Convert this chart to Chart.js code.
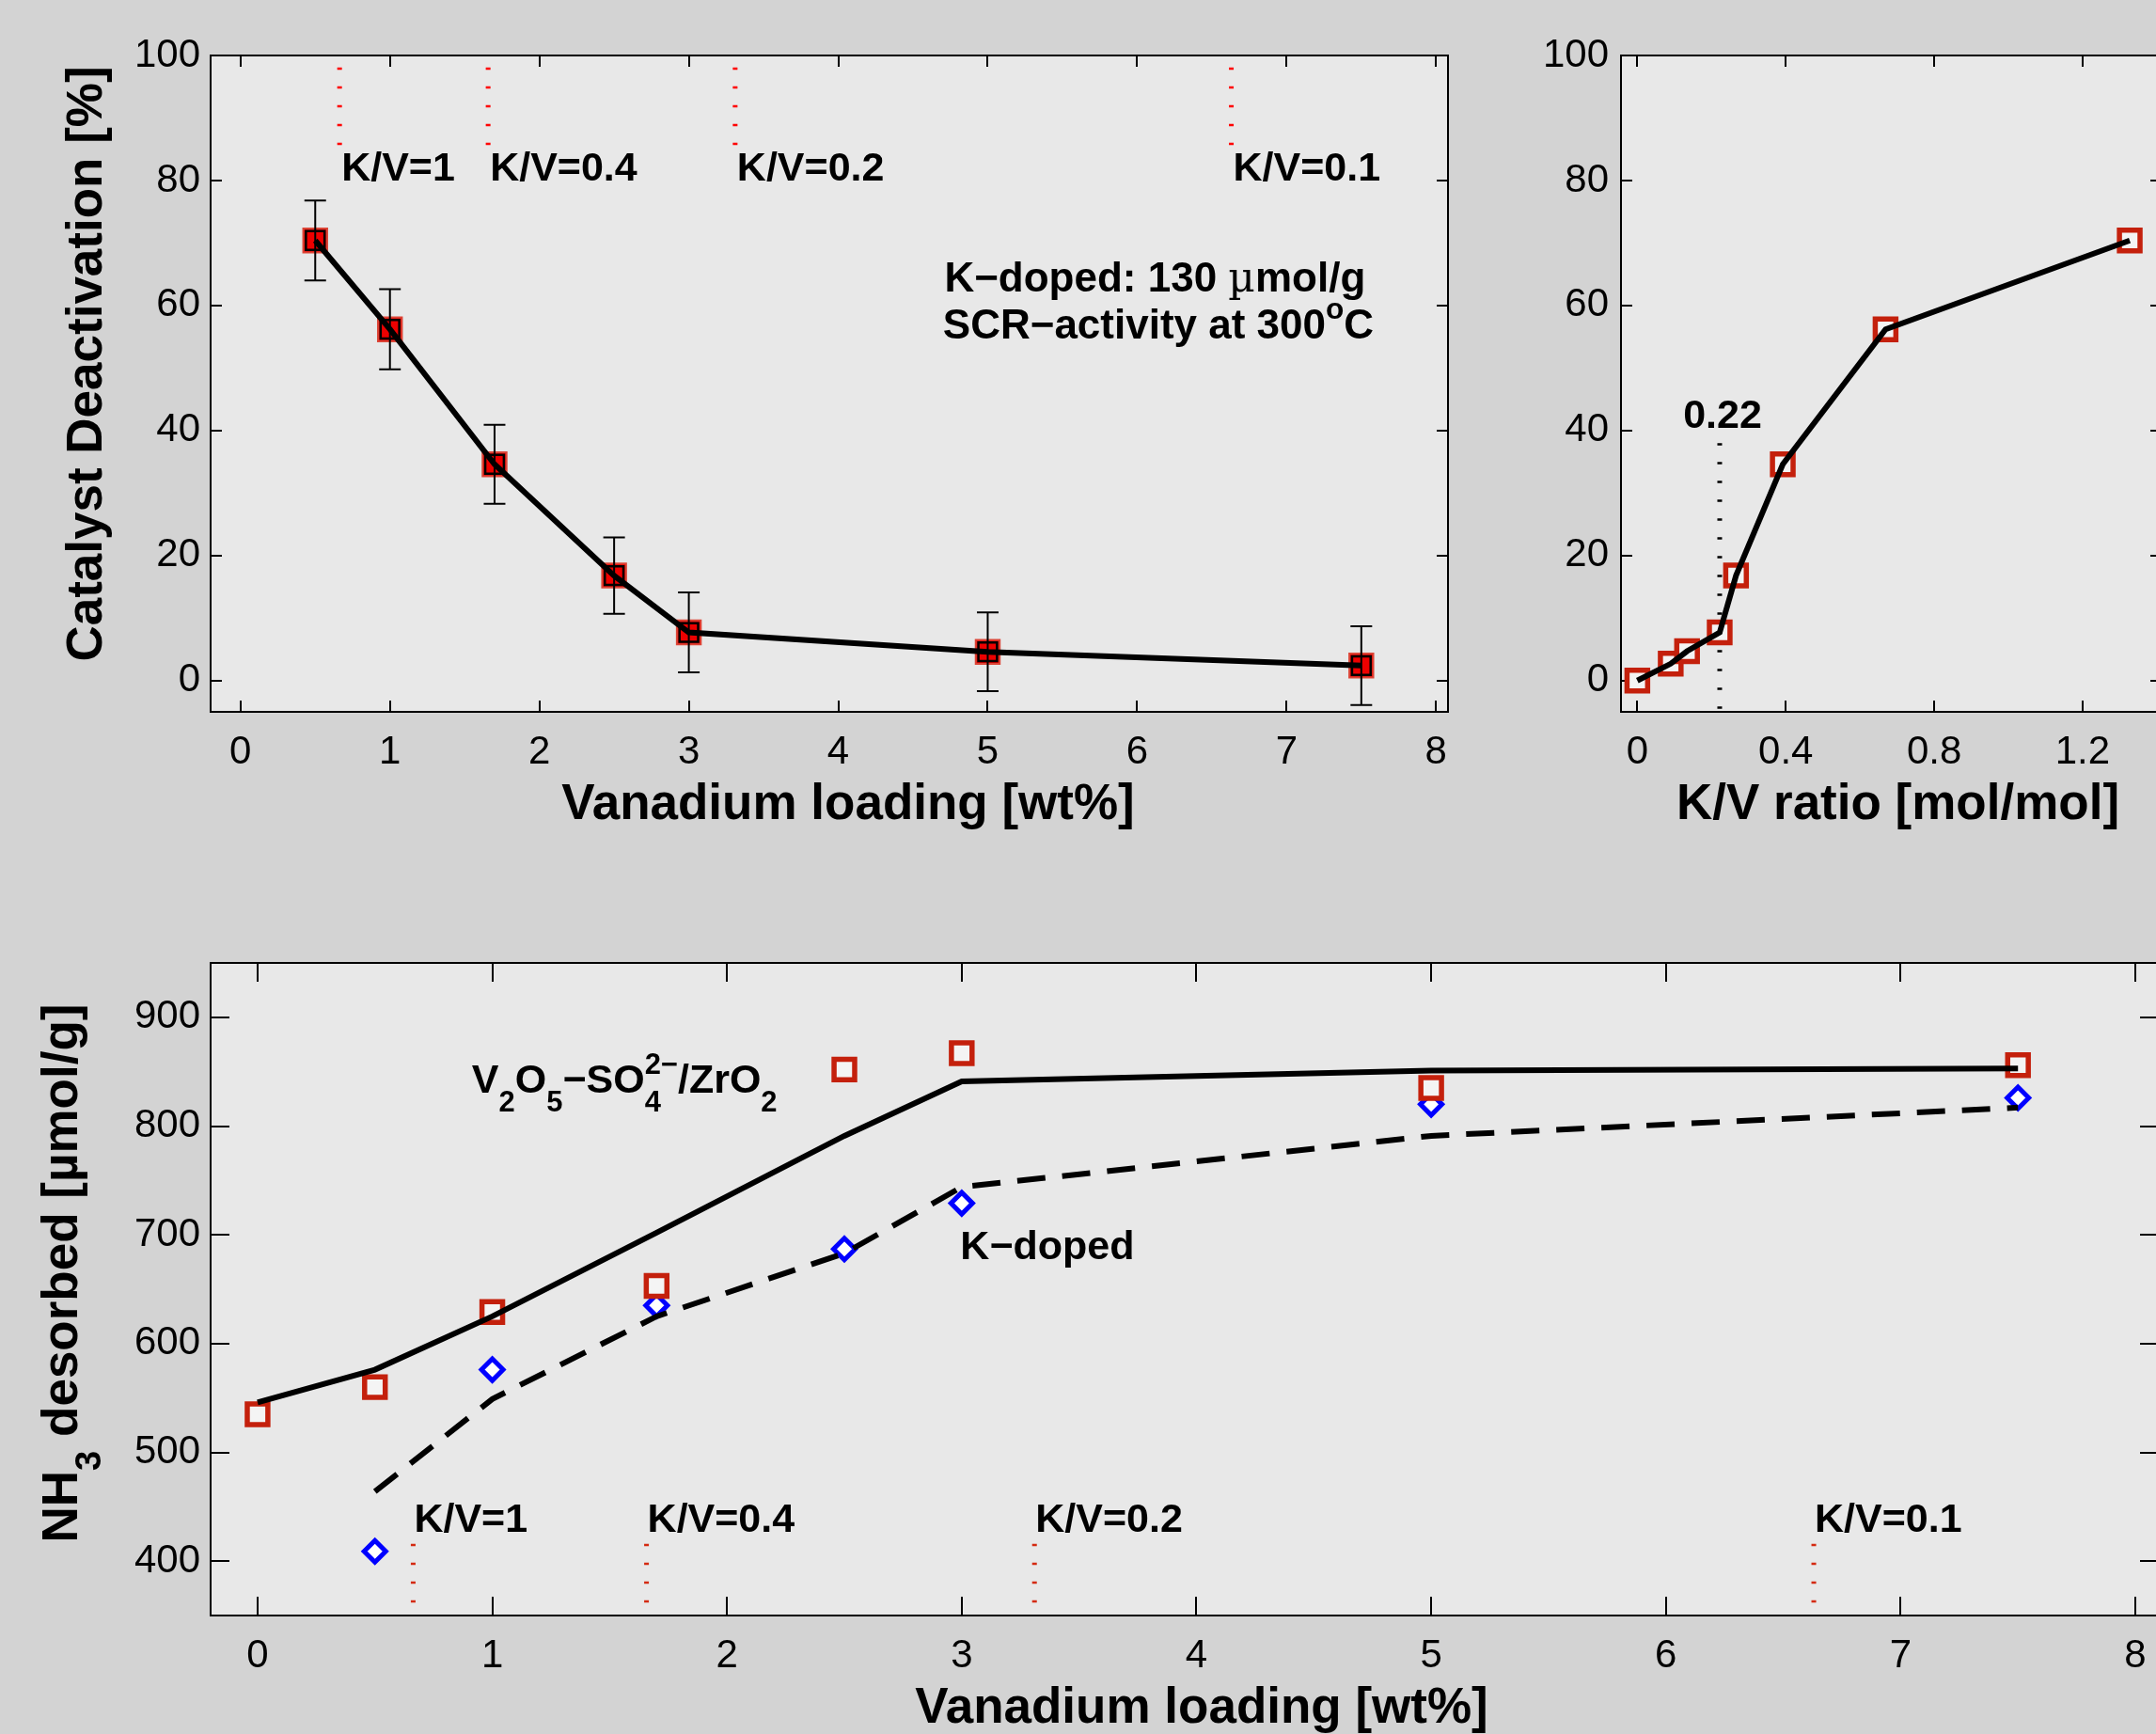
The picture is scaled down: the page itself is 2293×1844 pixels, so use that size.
<!DOCTYPE html>
<html>
<head>
    <title>Catalyst deactivation and NH3 desorption</title>
    <script src="https://cdn.jsdelivr.net/npm/chart.js"></script>
    <style>
        html, body { margin: 0; padding: 0; background: #d3d3d3; overflow: hidden; }
        body { width: 2293px; height: 1844px; position: relative; }
        canvas { position: absolute; }
    </style>
</head>
<body>
    <canvas id="deactChart" width="1600" height="900" style="left:0;top:0"></canvas>
    <canvas id="ratioChart" width="800" height="900" style="left:1600px;top:0"></canvas>
    <canvas id="nh3Chart" width="2400" height="944" style="left:0;top:900px"></canvas>

    <script>
        // Vanadium loading (wt%) of the K-doped catalysts and their deactivation
        var loading = [0.5, 1, 1.7, 2.5, 3, 5, 7.5];
        var deactivation = [70.4, 56.2, 34.6, 16.8, 7.7, 4.6, 2.4];
        var deactError = [6.4, 6.4, 6.3, 6.1, 6.4, 6.3, 6.3];

        // same deactivation vs K/V ratio (plus the undoped point)
        var kvRatio = [0, 0.09, 0.134, 0.222, 0.266, 0.392, 0.669, 1.327];
        var deactByRatio = [0, 2.7, 4.7, 7.7, 16.8, 34.6, 56.2, 70.4];

        // NH3 desorbed, undoped and K-doped
        var loadingAll = [0, 0.5, 1, 1.7, 2.5, 3, 5, 7.5];
        var nh3Plain = [535, 560, 629, 653, 852, 867, 835, 856];
        var nh3PlainFit = [546, 576, 625, 702, 791, 841, 851, 853];
        var nh3Doped = [409, 576, 635, 687, 729, 820, 826];
        var nh3DopedFit = [464, 549, 625, 683, 744, 791, 817];

        // loadings where K/V equals 1, 0.4, 0.2 and 0.1
        var kvLoading = [0.663, 1.657, 3.31, 6.63];
        var kvLabels = ['K/V=1', 'K/V=0.4', 'K/V=0.2', 'K/V=0.1'];
        var kvThreshold = 0.222;

        // tick labels
        var loadingTicks = [0, 1, 2, 3, 4, 5, 6, 7, 8];
        var deactTicks = [0, 20, 40, 60, 80, 100];
        var ratioTicks = [0, 0.4, 0.8, 1.2];
        var nh3Ticks = [400, 500, 600, 700, 800, 900];

        var FONT = "'Liberation Sans', Arial, Helvetica, sans-serif";
        Chart.defaults.font.family = FONT;
        Chart.defaults.color = '#000';

        function pts(xs, ys) {
            return xs.map(function (x, i) { return { x: x, y: ys[i] }; });
        }

        // draws text with sub/superscripts; parts are strings or {t, sub, sup, keep, weight, family}
        function drawRich(ctx, parts, x, y, size, align) {
            var items = [];
            var w = 0;
            parts.forEach(function (p) {
                if (typeof p === 'string') p = { t: p };
                var s = (p.sub || p.sup) ? size * 0.72 : size;
                var font = (p.weight || 'bold') + ' ' + s + 'px ' + (p.family || FONT);
                ctx.font = font;
                var adv = ctx.measureText(p.t).width;
                var dy = p.sub ? size * 0.47 : (p.sup ? -size * 0.47 : 0);
                items.push({ t: p.t, font: font, x: w, dy: dy });
                if (!p.keep) w += adv;
            });
            var x0 = align === 'center' ? x - w / 2 : (align === 'right' ? x - w : x);
            ctx.textAlign = 'left';
            ctx.textBaseline = 'alphabetic';
            ctx.fillStyle = '#000';
            items.forEach(function (it) {
                ctx.font = it.font;
                ctx.fillText(it.t, x0 + it.x, y + it.dy);
            });
        }

        function dotted(ctx, x, y1, y2, color) {
            ctx.save();
            ctx.strokeStyle = color;
            ctx.lineWidth = 5;
            ctx.setLineDash([2.5, 17.5]);
            ctx.beginPath();
            ctx.moveTo(x, y1);
            ctx.lineTo(x, y2);
            ctx.stroke();
            ctx.restore();
        }

        // matlab-like box: grey plot area, black frame, inward ticks on all sides, axis labels
        function framePlugin(tickLen, titles) {
            return {
                id: 'frame',
                beforeDraw: function (chart) {
                    var a = chart.chartArea, ctx = chart.ctx;
                    ctx.save();
                    ctx.fillStyle = '#e8e8e8';
                    ctx.fillRect(a.left, a.top, a.right - a.left, a.bottom - a.top);
                    ctx.restore();
                },
                beforeDatasetsDraw: function (chart) {
                    var a = chart.chartArea, ctx = chart.ctx;
                    var sx = chart.scales.x, sy = chart.scales.y;
                    ctx.save();
                    ctx.strokeStyle = '#000';
                    ctx.lineWidth = 2;
                    ctx.beginPath();
                    sx.ticks.forEach(function (t) {
                        var px = Math.round(sx.getPixelForValue(t.value));
                        ctx.moveTo(px, a.bottom); ctx.lineTo(px, a.bottom - tickLen);
                        ctx.moveTo(px, a.top); ctx.lineTo(px, a.top + tickLen);
                    });
                    sy.ticks.forEach(function (t) {
                        var py = Math.round(sy.getPixelForValue(t.value));
                        ctx.moveTo(a.left, py); ctx.lineTo(a.left + tickLen, py);
                        ctx.moveTo(a.right, py); ctx.lineTo(a.right - tickLen, py);
                    });
                    ctx.stroke();
                    ctx.strokeRect(a.left, a.top, a.right - a.left, a.bottom - a.top);
                    ctx.restore();
                },
                afterDraw: function (chart) {
                    var a = chart.chartArea, ctx = chart.ctx;
                    var cx = (a.left + a.right) / 2, cy = (a.top + a.bottom) / 2;
                    ctx.save();
                    drawRich(ctx, titles.x, cx + titles.xdx, a.bottom + 114, 53, 'center');
                    if (titles.y) {
                        ctx.translate(a.left - titles.ydx, cy + titles.ydy);
                        ctx.rotate(-Math.PI / 2);
                        drawRich(ctx, titles.y, 0, 0, 53, 'center');
                    }
                    ctx.restore();
                }
            };
        }

        function axis(min, max, ticks, fit, pad) {
            return {
                type: 'linear',
                min: min,
                max: max,
                afterBuildTicks: function (s) { s.ticks = ticks.map(function (v) { return { value: v }; }); },
                afterFit: fit,
                grid: { display: false, drawTicks: false },
                border: { display: false },
                ticks: {
                    font: { size: 42 },
                    padding: pad,
                    autoSkip: false,
                    maxRotation: 0,
                    callback: function (v) { return String(v); }
                }
            };
        }

        var baseOptions = function (padding, xs, ys) {
            return {
                responsive: false,
                animation: false,
                events: [],
                layout: { padding: padding },
                plugins: { legend: { display: false }, tooltip: { enabled: false } },
                scales: { x: xs, y: ys }
            };
        };

        // ---------- top left: deactivation vs vanadium loading ----------
        var errorBars = {
            id: 'errorBars',
            afterDatasetsDraw: function (chart) {
                var ctx = chart.ctx, sx = chart.scales.x, sy = chart.scales.y;
                ctx.save();
                ctx.strokeStyle = '#000';
                ctx.lineWidth = 2;
                ctx.beginPath();
                loading.forEach(function (v, i) {
                    var px = sx.getPixelForValue(v);
                    var top = sy.getPixelForValue(deactivation[i] + deactError[i]);
                    var bot = sy.getPixelForValue(deactivation[i] - deactError[i]);
                    ctx.moveTo(px, top); ctx.lineTo(px, bot);
                    ctx.moveTo(px - 11.5, top); ctx.lineTo(px + 11.5, top);
                    ctx.moveTo(px - 11.5, bot); ctx.lineTo(px + 11.5, bot);
                });
                ctx.stroke();
                ctx.restore();
            }
        };

        var notesDeact = {
            id: 'notesDeact',
            afterDatasetsDraw: function (chart) {
                var ctx = chart.ctx, sx = chart.scales.x, sy = chart.scales.y;
                kvLoading.forEach(function (v, i) {
                    var px = sx.getPixelForValue(v);
                    dotted(ctx, px, sy.getPixelForValue(98.1), sy.getPixelForValue(85.5), '#ff0000');
                    drawRich(ctx, [kvLabels[i]], px + 2, sy.getPixelForValue(80), 43, 'left');
                });
                drawRich(ctx, ['K\u2212doped: 130 ', { t: '\u00b5', weight: 'normal', family: "'DejaVu Serif', serif" }, 'mol/g'],
                    sx.getPixelForValue(4.71), sy.getPixelForValue(62.2), 44, 'left');
                drawRich(ctx, ['SCR\u2212activity at 300', { t: 'o', sup: true }, 'C'],
                    sx.getPixelForValue(4.70), sy.getPixelForValue(54.7), 44, 'left');
            }
        };

        new Chart(document.getElementById('deactChart'), {
            type: 'scatter',
            data: {
                datasets: [
                    {
                        data: pts(loading, deactivation),
                        showLine: true,
                        borderColor: '#000',
                        borderWidth: 6,
                        pointStyle: 'rect',
                        pointRadius: 14,
                        pointBorderWidth: 2.5,
                        pointBorderColor: '#000',
                        pointBackgroundColor: 'rgba(0,0,0,0)',
                        order: 0
                    },
                    {
                        data: pts(loading, deactivation),
                        pointStyle: 'rect',
                        pointRadius: 18,
                        pointBorderWidth: 2,
                        pointBorderColor: '#dc4436',
                        pointBackgroundColor: '#ee0000',
                        order: 1
                    }
                ]
            },
            options: baseOptions({ left: 0, top: 59, right: 60, bottom: 0 },
                axis(-0.2, 8.08, loadingTicks, function (s) { s.height = 143; }, 18),
                axis(-5, 100, deactTicks, function (s) { s.width = 224; }, 11)),
            plugins: [
                framePlugin(12, { x: ['Vanadium loading [wt%]'], xdx: 20, y: ['Catalyst Deactivation [%]'], ydx: 116, ydy: -21 }),
                errorBars,
                notesDeact
            ]
        });

        // ---------- top right: deactivation vs K/V ratio ----------
        var notesRatio = {
            id: 'notesRatio',
            afterDatasetsDraw: function (chart) {
                var ctx = chart.ctx, sx = chart.scales.x, sy = chart.scales.y;
                var px = sx.getPixelForValue(kvThreshold);
                dotted(ctx, px, sy.getPixelForValue(38), sy.getPixelForValue(-5), '#000');
                drawRich(ctx, [String(0.22)], px + 3, sy.getPixelForValue(40.4), 43, 'center');
            }
        };

        new Chart(document.getElementById('ratioChart'), {
            type: 'scatter',
            data: {
                datasets: [
                    {
                        data: pts(kvRatio, deactByRatio),
                        showLine: true,
                        borderColor: '#000',
                        borderWidth: 6,
                        pointRadius: 0,
                        order: 0
                    },
                    {
                        data: pts(kvRatio, deactByRatio),
                        pointStyle: 'rect',
                        pointRadius: 15.5,
                        pointBorderWidth: 5.5,
                        pointBorderColor: '#c4200c',
                        pointBackgroundColor: '#f4f4f4',
                        order: 1
                    }
                ]
            },
            options: baseOptions({ left: 0, top: 59, right: 101, bottom: 0 },
                axis(-0.044, 1.413, ratioTicks, function (s) { s.height = 143; }, 18),
                axis(-5, 100, deactTicks, function (s) { s.width = 124; }, 13)),
            plugins: [
                framePlugin(12, { x: ['K/V ratio [mol/mol]'], xdx: 7 }),
                notesRatio
            ]
        });

        // ---------- bottom: NH3 desorbed vs vanadium loading ----------
        var notesNh3 = {
            id: 'notesNh3',
            afterDatasetsDraw: function (chart) {
                var ctx = chart.ctx, sx = chart.scales.x, sy = chart.scales.y;
                kvLoading.forEach(function (v, i) {
                    var px = sx.getPixelForValue(v);
                    dotted(ctx, px, sy.getPixelForValue(416), sy.getPixelForValue(350), '#d42a10');
                    drawRich(ctx, [kvLabels[i]], px + 1, sy.getPixelForValue(427), 43, 'left');
                });
                drawRich(ctx, ['V', { t: '2', sub: true }, 'O', { t: '5', sub: true }, '\u2212SO',
                    { t: '4', sub: true, keep: true }, { t: '2\u2212', sup: true }, '/ZrO', { t: '2', sub: true }],
                    sx.getPixelForValue(0.913), sy.getPixelForValue(830.5), 43, 'left');
                drawRich(ctx, ['K\u2212doped'], sx.getPixelForValue(2.994), sy.getPixelForValue(677.5), 43, 'left');
            }
        };

        new Chart(document.getElementById('nh3Chart'), {
            type: 'scatter',
            data: {
                datasets: [
                    {
                        data: pts(loadingAll, nh3PlainFit),
                        showLine: true,
                        borderColor: '#000',
                        borderWidth: 6,
                        pointRadius: 0,
                        order: 0
                    },
                    {
                        data: pts(loading, nh3DopedFit),
                        showLine: true,
                        borderColor: '#000',
                        borderWidth: 6,
                        borderDash: [30, 18],
                        pointRadius: 0,
                        order: 1
                    },
                    {
                        data: pts(loadingAll, nh3Plain),
                        pointStyle: 'rect',
                        pointRadius: 15.5,
                        pointBorderWidth: 5.5,
                        pointBorderColor: '#c4200c',
                        pointBackgroundColor: '#f4f4f4',
                        order: 2
                    },
                    {
                        data: pts(loading, nh3Doped),
                        pointStyle: 'rectRot',
                        pointRadius: 11.5,
                        pointBorderWidth: 5,
                        pointBorderColor: '#0000ff',
                        pointBackgroundColor: '#ffffff',
                        order: 2
                    }
                ]
            },
            options: baseOptions({ left: 0, top: 124, right: 104, bottom: 0 },
                axis(-0.2, 8.1, loadingTicks, function (s) { s.height = 126; }, 18),
                axis(350, 950, nh3Ticks, function (s) { s.width = 224; }, 11)),
            plugins: [
                framePlugin(20, {
                    x: ['Vanadium loading [wt%]'], xdx: 18,
                    y: ['NH', { t: '3', sub: true }, ' desorbed [\u00b5mol/g]'], ydx: 142, ydy: -17
                }),
                notesNh3
            ]
        });
    </script>
</body>
</html>
